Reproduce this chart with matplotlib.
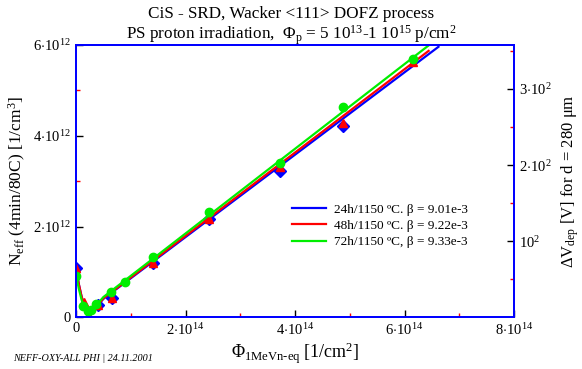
import numpy as np
import matplotlib
matplotlib.use('Agg')
import matplotlib.pyplot as plt
from matplotlib.ticker import FixedLocator

plt.rcParams['font.family'] = ['Liberation Serif', 'DejaVu Serif']
plt.rcParams['mathtext.fontset'] = 'custom'
plt.rcParams['mathtext.rm'] = 'Liberation Serif'
plt.rcParams['mathtext.it'] = 'Liberation Serif:italic'

# =======  DATA  ======= #
labels = ['24h/1150 \u00baC. \u03b2 = 9.01e-3',
          '48h/1150 \u00baC. \u03b2 = 9.22e-3',
          '72h/1150 \u00baC, \u03b2 = 9.33e-3']
colors = ['#0000ff', '#ff0000', '#00ee00']
markers = ['D', '^', 'o']

# measured points (fluence 1e14 /cm2, Neff 1e12 /cm3)
blue_phi = [0.0, 0.40, 0.66, 1.41, 2.42, 3.73, 4.88]
blue_neff = [1.09, 0.28, 0.42, 1.20, 2.17, 3.22, 4.22]
red_phi = [0.0, 0.15, 0.40, 0.66, 1.41, 2.42, 3.73, 4.88, 6.15]
red_neff = [1.09, 0.34, 0.28, 0.43, 1.20, 2.17, 3.32, 4.29, 5.62]
green_phi = [0.0, 0.13, 0.22, 0.28, 0.37, 0.63, 0.90, 1.41, 2.42, 3.73, 4.88, 6.15]
green_neff = [0.92, 0.25, 0.14, 0.17, 0.30, 0.56, 0.78, 1.33, 2.32, 3.40, 4.64, 5.70]

# fitted curves
blue_fit_phi = [0.0, 0.05, 0.10, 0.15, 0.20, 0.24, 0.30, 0.50, 6.62]
blue_fit_neff = [1.09, 0.74, 0.47, 0.27, 0.10, 0.0, 0.13, 0.41, 5.96]
red_fit_phi = [0.0, 0.05, 0.10, 0.15, 0.20, 0.24, 0.30, 0.50, 6.44]
red_fit_neff = [1.09, 0.74, 0.47, 0.26, 0.09, 0.0, 0.14, 0.42, 5.87]
green_fit_phi = [0.0, 0.05, 0.10, 0.15, 0.20, 0.23, 0.30, 0.50, 6.44]
green_fit_neff = [0.95, 0.64, 0.40, 0.21, 0.05, 0.0, 0.17, 0.45, 5.99]

pts = [(blue_phi, blue_neff), (red_phi, red_neff), (green_phi, green_neff)]
fits = [(blue_fit_phi, blue_fit_neff), (red_fit_phi, red_fit_neff),
        (green_fit_phi, green_fit_neff)]

# Neff -> Vdep for d = 280 um
q = 1.602e-19
eps = 11.9 * 8.854e-14
d = 0.028
conv = q * d**2 / (2 * eps)

# =======  PLOT  ======= #
fig = plt.figure(figsize=(5.82, 3.69), dpi=100)
ax = fig.add_axes([0.1306, 0.1396, 0.7526, 0.7385])

for (px, py), (fx, fy), c, m, lab in zip(pts, fits, colors, markers, labels):
    ax.plot(np.array(fx) * 1e14, np.array(fy) * 1e12, color=c, lw=1.6, label=lab)
    ax.plot(np.array(px) * 1e14, np.array(py) * 1e12, ls='none', marker=m,
            color=c, ms=6, mec=c)

ax.set_xlim(0, 8e14)
ax.set_ylim(0, 6e12)

ax.xaxis.set_major_locator(FixedLocator([0, 2e14, 4e14, 6e14, 8e14]))
ax.xaxis.set_minor_locator(FixedLocator([1e14, 3e14, 5e14, 7e14]))
ax.set_xticklabels(['0', r'2$\cdot$10$^{14}$', r'4$\cdot$10$^{14}$',
                    r'6$\cdot$10$^{14}$', r'8$\cdot$10$^{14}$'])
ax.yaxis.set_major_locator(FixedLocator([0, 2e12, 4e12, 6e12]))
ax.yaxis.set_minor_locator(FixedLocator([1e12, 3e12, 5e12]))
ax.set_yticklabels(['0', r'2$\cdot$10$^{12}$', r'4$\cdot$10$^{12}$',
                    r'6$\cdot$10$^{12}$'])

for sp in ax.spines.values():
    sp.set_color('#0000ff')
    sp.set_linewidth(1.3)

ax.tick_params(which='major', direction='in', length=5, width=1, color='k',
               labelsize=10.5, top=False)
ax.tick_params(which='minor', direction='in', length=3, width=1, color='#ff0000',
               top=False)

ax2 = ax.twinx()
ax2.set_ylim(0, 6e12 * conv)
ax2.yaxis.set_major_locator(FixedLocator([100, 200, 300]))
ax2.yaxis.set_minor_locator(FixedLocator([50, 150, 250, 350]))
ax2.set_yticklabels([r'10$^2$', r'2$\cdot$10$^2$', r'3$\cdot$10$^2$'])
ax2.tick_params(which='major', direction='in', length=5, width=1, color='k',
                labelsize=10.5)
ax2.tick_params(which='minor', direction='in', length=3, width=1, color='#ff0000')
for sp in ax2.spines.values():
    sp.set_color('#0000ff')
    sp.set_linewidth(1.3)

ax.set_xlabel(r'$\Phi_{\rm 1MeVn\text{-}eq}$ [1/cm$^2$]', fontsize=13, labelpad=2)
ax.set_ylabel(r'N$_{\rm eff}$ (4min/80C) [1/cm$^3$]', fontsize=12.5, labelpad=4)
ax2.set_ylabel('\u0394V$_{\\rm dep}$ [V] for d = 280 \u03bcm', fontsize=12,
               labelpad=6)

ax.legend(loc='upper left', bbox_to_anchor=(0.48, 0.437), frameon=False,
          fontsize=9.5, handlelength=2.6, handletextpad=0.6, labelspacing=0.3,
          borderaxespad=0)

fig.text(0.5, 0.985, 'CiS - SRD, Wacker <111> DOFZ process', ha='center',
         va='top', fontsize=12.3)
fig.text(0.5, 0.935, r'PS proton irradiation,  $\Phi_{\rm p}$ = 5 10$^{13}$-1 10$^{15}$ p/cm$^2$',
         ha='center', va='top', fontsize=12.3)
fig.text(0.022, 0.022, 'NEFF-OXY-ALL PHI | 24.11.2001', fontsize=7.3,
         style='italic')

fig.savefig('out.png', dpi=100)
